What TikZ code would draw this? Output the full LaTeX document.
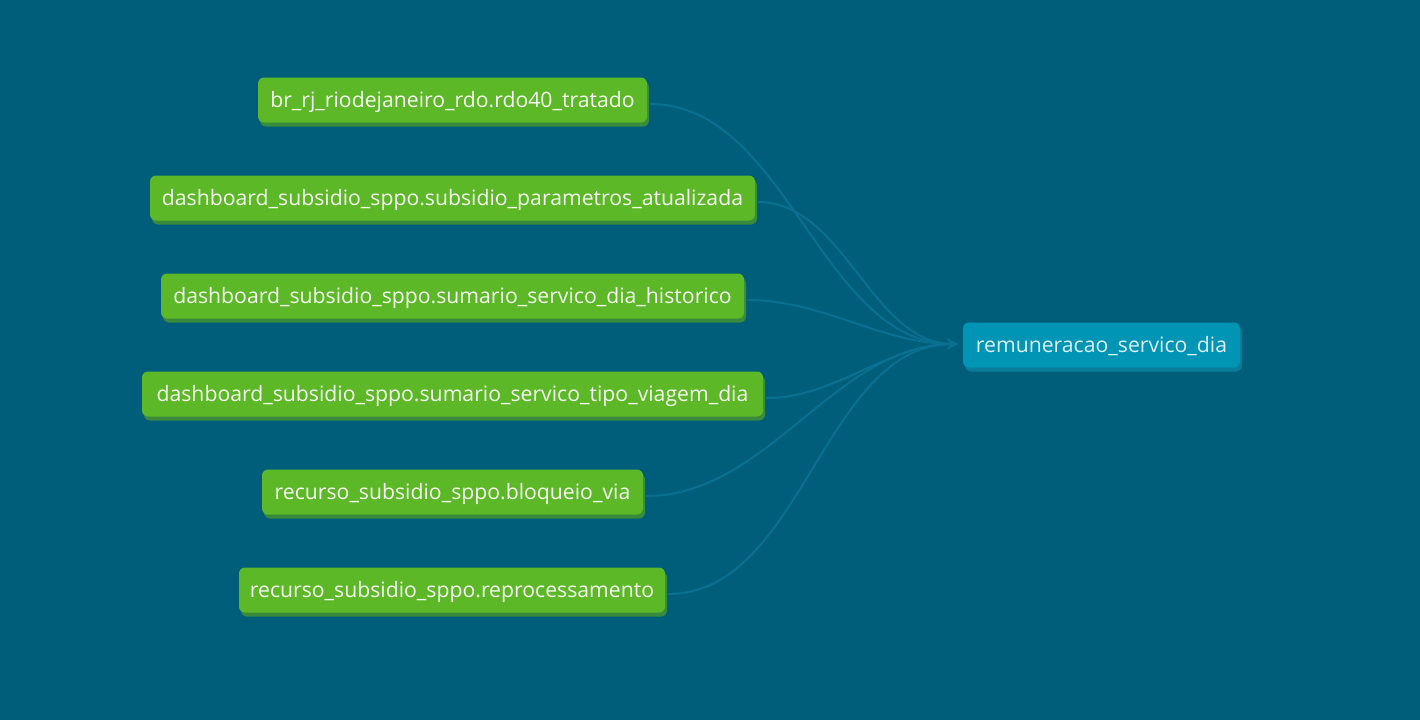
\documentclass[tikz,border=0pt]{standalone}
\usepackage{fontspec}
\setmainfont{Open Sans}
\usetikzlibrary{arrows.meta,shadows}
\definecolor{bg}{HTML}{005E7A}
\definecolor{srcfill}{HTML}{5DB827}
\definecolor{srcshadow}{HTML}{3A8A3E}
\definecolor{tgtfill}{HTML}{0095B5}
\definecolor{tgtshadow}{HTML}{0A7C98}
\definecolor{edgecol}{HTML}{0A7091}
\definecolor{srctext}{HTML}{F4F8F0}
\definecolor{tgttext}{HTML}{DCEFF4}
\tikzset{
  boxbase/.style={rounded corners=6pt, minimum height=45pt, inner xsep=0pt,
    text height=18pt, text depth=4pt, font=\fontsize{21.2}{24}\selectfont},
  srcbox/.style={boxbase, fill=srcfill, text=srctext,
    drop shadow={shadow xshift=2pt, shadow yshift=-4pt, fill=srcshadow, opacity=1}},
  tgtbox/.style={boxbase, fill=tgtfill, text=tgttext,
    drop shadow={shadow xshift=2pt, shadow yshift=-4pt, fill=tgtshadow, opacity=1}},
  link/.style={draw=edgecol, line width=2pt, -{Stealth[length=11pt,width=11pt,inset=5pt]}}
}
\begin{document}
\begin{tikzpicture}[x=1pt,y=-1pt]
\fill[bg] (0,0) rectangle (1420,720);
\useasboundingbox (0,0) rectangle (1420,720);
\node[srcbox, minimum width=389pt] (n1) at (452.5,100) {br\_rj\_riodejaneiro\_rdo.rdo40\_tratado};
\node[srcbox, minimum width=605pt] (n2) at (452.5,198) {dashboard\_subsidio\_sppo.subsidio\_parametros\_atualizada};
\node[srcbox, minimum width=583pt] (n3) at (452.5,296) {dashboard\_subsidio\_sppo.sumario\_servico\_dia\_historico};
\node[srcbox, minimum width=621pt] (n4) at (452.5,394) {dashboard\_subsidio\_sppo.sumario\_servico\_tipo\_viagem\_dia};
\node[srcbox, minimum width=381pt] (n5) at (452.5,492) {recurso\_subsidio\_sppo.bloqueio\_via};
\node[srcbox, minimum width=426pt] (n6) at (452,590) {recurso\_subsidio\_sppo.reprocessamento};
\node[tgtbox, minimum width=277pt] (t) at (1101.5,345) {remuneracao\_servico\_dia};
\coordinate (tin) at ([xshift=-5pt,yshift=1pt]t.west);
\foreach \n in {n1,n2,n3,n4,n5,n6}{
  \draw[link] ([xshift=3pt,yshift=-4pt]\n.east) to[out=0,in=180,looseness=0.9] (tin);
}
\end{tikzpicture}
\end{document}
